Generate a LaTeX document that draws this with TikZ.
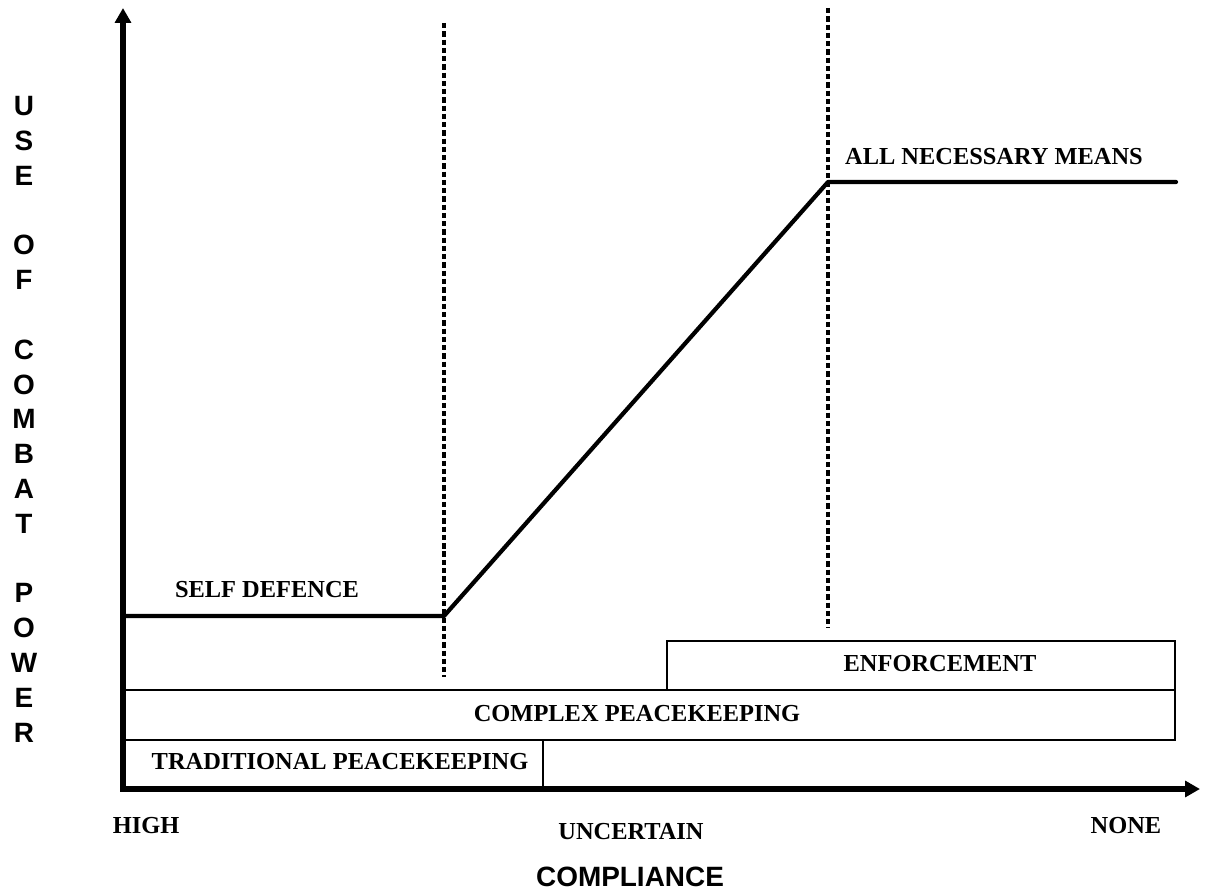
\documentclass[tikz,border=0pt]{standalone}
\usepackage{fontspec}
\setmainfont{Liberation Serif}
\setsansfont{Liberation Sans}
\usetikzlibrary{arrows.meta}
\begin{document}
\begin{tikzpicture}[x=0.02cm,y=-0.02cm,
    axis/.style={line width=3pt,{Triangle[length=8.5pt,width=9pt]}-{Triangle[length=8.5pt,width=9pt]}},
    force/.style={line width=2.4pt,line cap=round,line join=round},
    divider/.style={line width=1.8pt,dash pattern=on 3pt off 1.7pt},
    band/.style={line width=0.9pt},
    lbl/.style={font=\bfseries\fontsize{13.9}{16}\selectfont,inner sep=0pt},
    axlbl/.style={font=\sffamily\bfseries\fontsize{15.9}{19}\selectfont,inner sep=0pt}]
        \useasboundingbox (0,0) rectangle (1207,895);
        % bands
        \draw[band] (123,740) rectangle (543,789);
        \draw[band] (123,690) rectangle (1175,740);
        \draw[band] (667,641) rectangle (1175,690);
        \node[lbl] (trad) at (340,762) {TRADITIONAL PEACEKEEPING};
        \node[lbl] (cplx) at (637,714) {COMPLEX PEACEKEEPING};
        \node[lbl] (enf) at (940,664) {ENFORCEMENT};
        % axes
        \coordinate (O) at (123,789);
        \coordinate (ytip) at (123,8);
        \coordinate (xtip) at (1200,789);
        \draw[axis] (ytip) -- (O) -- (xtip);
        % dashed limits
        \coordinate (d1a) at (444,23);
        \coordinate (d1b) at (444,677);
        \coordinate (d2a) at (828,8);
        \coordinate (d2b) at (828,628);
        \draw[divider] (d1a) -- (d1b);
        \draw[divider] (d2a) -- (d2b);
        % use of force
        \coordinate (sd) at (123,616);
        \coordinate (kink) at (444,616);
        \coordinate (peak) at (828,182);
        \coordinate (anm) at (1176,182);
        \draw[force] (sd) -- (kink) -- (peak) -- (anm);
        \node[lbl] (selfdef) at (267,590) {SELF DEFENCE};
        \node[lbl] (allmeans) at (994,157) {ALL NECESSARY MEANS};
        % compliance
        \node[lbl] (high) at (146,826) {HIGH};
        \node[lbl] (unc) at (631,832) {UNCERTAIN};
        \node[lbl] (none) at (1126,826) {NONE};
        \node[axlbl] (compl) at (630,877) {COMPLIANCE};
        % vertical title
        \foreach \ch/\k in {U/0,S/1,E/2,O/4,F/5,C/7,O/8,M/9,B/10,A/11,T/12,P/14,O/15,W/16,E/17,R/18}
        \node[axlbl] (v\k) at (24,106+\k*34.8) {\ch};
\end{tikzpicture}
\end{document}
